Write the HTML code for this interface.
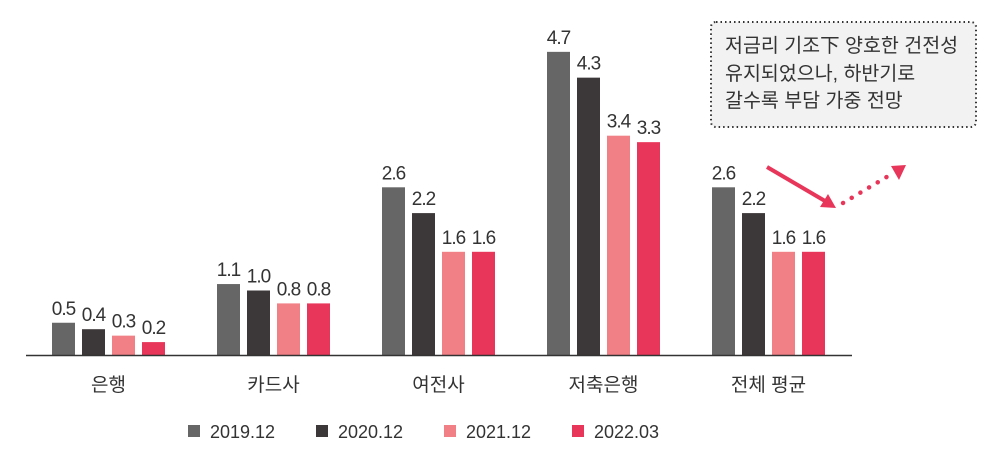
<!DOCTYPE html>
<html><head><meta charset="utf-8"><style>
body{margin:0;background:#fff;}
svg text{font-family:"Liberation Sans","Noto Sans CJK KR",sans-serif;}
</style></head><body>
<svg width="1000" height="455" viewBox="0 0 1000 455" xmlns="http://www.w3.org/2000/svg">
<g id="bars"></g>
<line x1="26" y1="355.5" x2="852" y2="355.5" stroke="#333" stroke-width="1.5"/>
<g id="cats"></g>
<g id="legend"></g>
<g>
<rect x="711" y="22" width="265" height="105" rx="5" fill="#f2f2f2" stroke="#333" stroke-width="2" stroke-dasharray="1.5,3"/>
<text x="725" y="52" font-size="19.5" fill="#333">저금리 기조下 양호한 건전성</text>
<text x="725" y="80" font-size="19.5" fill="#333">유지되었으나, 하반기로</text>
<text x="725" y="107" font-size="19.5" fill="#333">갈수록 부담 가중 전망</text>
</g>
<g>
<line x1="767" y1="167" x2="825" y2="201" stroke="#e8365a" stroke-width="4"/>
<polygon points="836,208 820,207 828,194" fill="#e8365a"/>
<line x1="843" y1="203" x2="895" y2="172" stroke="#e8365a" stroke-width="4.5" stroke-dasharray="0.1,10" stroke-linecap="round"/>
<polygon points="906,165 891,166 899,180" fill="#e8365a"/>
</g>
<script>
const categories=["은행","카드사","여전사","저축은행","전체 평균"];
const series=["2019.12","2020.12","2021.12","2022.03"];
const v2019=[0.5,1.1,2.6,4.7,2.6];
const v2020=[0.4,1.0,2.2,4.3,2.2];
const v2021=[0.3,0.8,1.6,3.4,1.6];
const v2022=[0.2,0.8,1.6,3.3,1.6];
const labels2019=["0.5","1.1","2.6","4.7","2.6"];
const labels2020=["0.4","1.0","2.2","4.3","2.2"];
const labels2021=["0.3","0.8","1.6","3.4","1.6"];
const labels2022=["0.2","0.8","1.6","3.3","1.6"];
const colors=["#666666","#3c3738","#f07f86","#e8365a"];
const NS="http://www.w3.org/2000/svg";
const base=355,scale=64.5;
const y=v=>base-v*scale;
const gx=i=>52+i*165;
const vals=[v2019,v2020,v2021,v2022];
const labs=[labels2019,labels2020,labels2021,labels2022];
const bars=document.getElementById('bars');
categories.forEach((c,i)=>{
  vals.forEach((s,j)=>{
    const x=gx(i)+j*30;
    const r=document.createElementNS(NS,'rect');
    r.setAttribute('x',x);r.setAttribute('y',y(s[i]));
    r.setAttribute('width',23);r.setAttribute('height',base-y(s[i]));
    r.setAttribute('fill',colors[j]);
    
    
    bars.appendChild(r);
    const t=document.createElementNS(NS,'text');
    t.setAttribute('x',x+11.5);t.setAttribute('y',y(s[i])-8);
    t.setAttribute('text-anchor','middle');t.setAttribute('font-size','19');t.setAttribute('fill','#333');
    t.setAttribute('letter-spacing','-1');
    t.textContent=labs[j][i];
    
    
    bars.appendChild(t);
  });
  const t=document.createElementNS(NS,'text');
  t.setAttribute('x',gx(i)+56.5);t.setAttribute('y',391);
  t.setAttribute('text-anchor','middle');t.setAttribute('font-size','19');t.setAttribute('fill','#333');
  t.textContent=c;
  
  
  document.getElementById('cats').appendChild(t);
});
const lg=document.getElementById('legend');
series.forEach((s,j)=>{
  const x=188+j*128;
  const r=document.createElementNS(NS,'rect');
  r.setAttribute('x',x);r.setAttribute('y',425);r.setAttribute('width',12);r.setAttribute('height',12);
  r.setAttribute('fill',colors[j]);
  
  
  lg.appendChild(r);
  const t=document.createElementNS(NS,'text');
  t.setAttribute('x',x+22);t.setAttribute('y',438);t.setAttribute('font-size','18');t.setAttribute('fill','#333');
  t.textContent=s;
  
  
  lg.appendChild(t);
});
</script>
</svg>
</body></html>
